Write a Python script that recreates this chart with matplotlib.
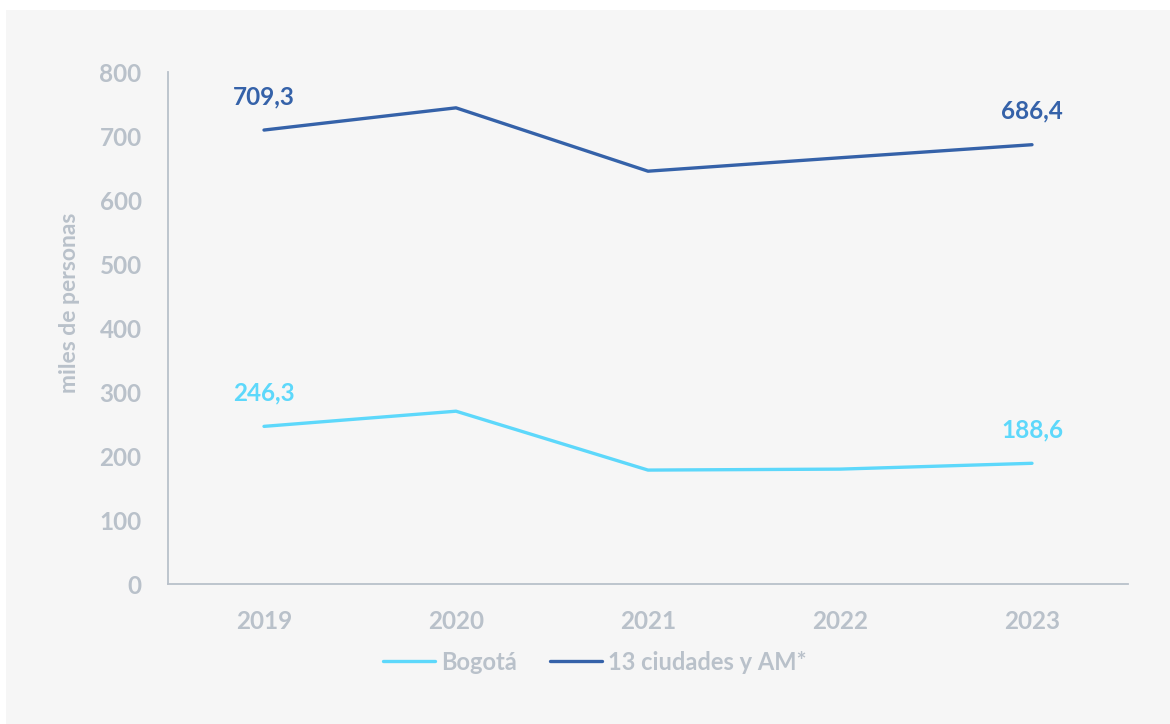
import matplotlib
matplotlib.use("Agg")
import matplotlib.pyplot as plt
from matplotlib.patches import Rectangle

plt.rcParams['font.family'] = ['Lato', 'DejaVu Sans']

years = ["2019", "2020", "2021", "2022", "2023"]
bogota = [246.3, 270.0, 178.0, 179.5, 188.6]
ciudades = [709.3, 744.0, 645.0, 666.0, 686.4]
series_names = ["Bogotá", "13 ciudades y AM*"]
yticks = [0, 100, 200, 300, 400, 500, 600, 700, 800]

c_light = "#5dd8fb"
c_dark = "#3562a9"
c_grey = "#b9c1ca"
bg = "#f6f6f6"

W, H = 1170, 724
fig = plt.figure(figsize=(W / 100, H / 100), dpi=100)
fig.patch.set_facecolor("white")
fig.add_artist(Rectangle((6 / W, 0), 1 - 6 / W, (H - 10) / H, transform=fig.transFigure,
                         facecolor=bg, edgecolor="none", zorder=0))

ax = fig.add_axes([168 / W, (H - 584) / H, 960 / W, 512 / H])
ax.set_facecolor("none")

x = list(range(len(years)))
l1, = ax.plot(x, bogota, color=c_light, lw=2.4, solid_capstyle="round", label=series_names[0])
l2, = ax.plot(x, ciudades, color=c_dark, lw=2.4, solid_capstyle="round", label=series_names[1])

for i in (0, len(years) - 1):
    ax.annotate(f"{bogota[i]:.1f}".replace(".", ","), (x[i], bogota[i]), xytext=(0, 24),
                textcoords="offset points", ha="center", va="center", fontsize=17.5,
                fontweight="bold", color=c_light)
    ax.annotate(f"{ciudades[i]:.1f}".replace(".", ","), (x[i], ciudades[i]), xytext=(0, 24),
                textcoords="offset points", ha="center", va="center", fontsize=17.5,
                fontweight="bold", color=c_dark)

ax.set_xlim(-0.5, len(years) - 0.5)
ax.set_ylim(0, 800)
ax.set_xticks(x)
ax.set_xticklabels(years)
ax.set_yticks(yticks)
ax.set_yticklabels([str(v) for v in yticks])
ax.tick_params(axis="both", length=0, labelsize=17.5, labelcolor=c_grey)
ax.tick_params(axis="y", pad=19)
ax.tick_params(axis="x", pad=19)
for lab in ax.get_xticklabels() + ax.get_yticklabels():
    lab.set_fontweight("bold")

for s in ("top", "right"):
    ax.spines[s].set_visible(False)
for s in ("left", "bottom"):
    ax.spines[s].set_color(c_grey)
    ax.spines[s].set_linewidth(1.3)

ax.set_ylabel("miles de personas", fontsize=16.5, fontweight="bold", color=c_grey)
ax.yaxis.set_label_coords(-0.092, 0.55)

leg = fig.legend(handles=[l1, l2], loc="center", bbox_to_anchor=(595 / W, 1 - 662 / H),
                 ncol=2, frameon=False, fontsize=17, handlelength=2.2, handletextpad=0.25,
                 columnspacing=1.4)
for t in leg.get_texts():
    t.set_color(c_grey)
    t.set_fontweight("bold")

fig.savefig("out.png", dpi=100, facecolor="white")
